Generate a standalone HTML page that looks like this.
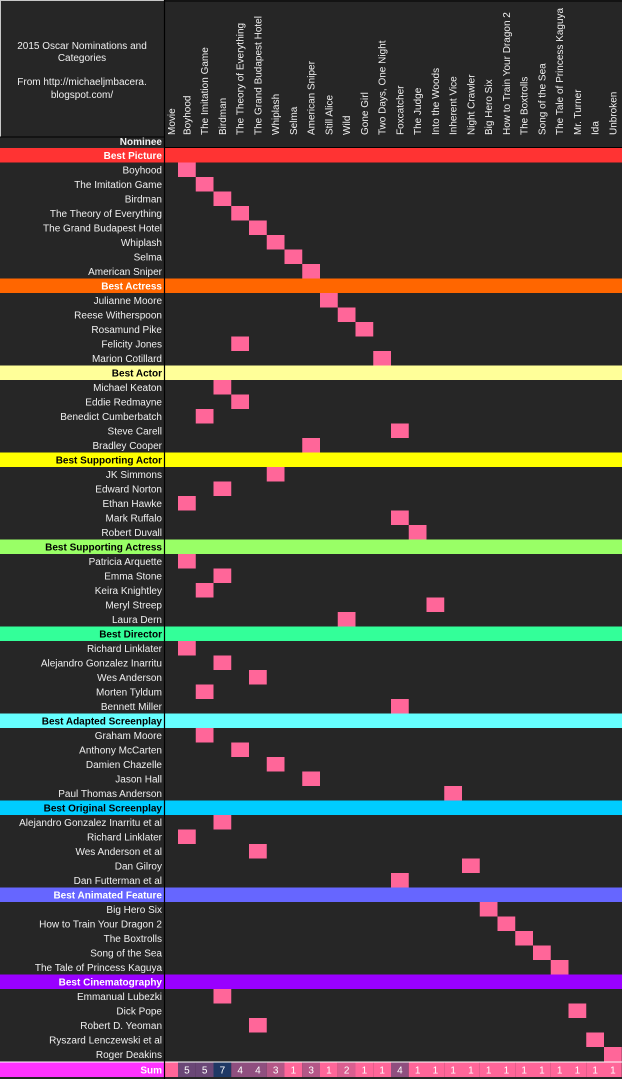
<!DOCTYPE html>
<html><head><meta charset="utf-8">
<style>
html,body{margin:0;padding:0;background:#262626;}
svg{display:block;font-family:"Liberation Sans",Arial,sans-serif;}
</style></head>
<body>
<svg id="chart" width="622" height="1079" viewBox="0 0 622 1079" xmlns="http://www.w3.org/2000/svg">
<rect x="0" y="0" width="622" height="1079" fill="#262626"/>
<line x1="0" y1="0.5" x2="165" y2="0.5" stroke="#c8c8c8"/>
<line x1="165" y1="1" x2="622" y2="1" stroke="#000"/>
<line x1="0.5" y1="0" x2="0.5" y2="137" stroke="#c8c8c8"/>
<text x="82" y="49" fill="#f0f0f0" font-size="10" text-anchor="middle">2015 Oscar Nominations and</text>
<text x="82" y="61" fill="#f0f0f0" font-size="10" text-anchor="middle">Categories</text>
<text x="82" y="85" fill="#f0f0f0" font-size="10" text-anchor="middle">From http://michaeljmbacera.</text>
<text x="82" y="98" fill="#f0f0f0" font-size="10" text-anchor="middle">blogspot.com/</text>
<g id="g"></g>
</svg>
<script>
const movies = ["Movie","Boyhood","The Imitation Game","Birdman","The Theory of Everything","The Grand Budapest Hotel","Whiplash","Selma","American Sniper","Still Alice","Wild","Gone Girl","Two Days, One Night","Foxcatcher","The Judge","Into the Woods","Inherent Vice","Night Crawler","Big Hero Six","How to Train Your Dragon 2","The Boxtrolls","Song of the Sea","The Tale of Princess Kaguya","Mr. Turner","Ida","Unbroken"];
const categories = ["Best Picture","Best Actress","Best Actor","Best Supporting Actor","Best Supporting Actress","Best Director","Best Adapted Screenplay","Best Original Screenplay","Best Animated Feature","Best Cinematography"];
const categoryColors = ["#ff3333","#ff6600","#ffff99","#ffff00","#99ff66","#33ff99","#66ffff","#00ccff","#6666ff","#9900ff"];
const categoryTextColors = ["#fff","#fff","#000","#000","#000","#000","#000","#000","#fff","#fff"];
const nominees = [
 ["Boyhood","The Imitation Game","Birdman","The Theory of Everything","The Grand Budapest Hotel","Whiplash","Selma","American Sniper"],
 ["Julianne Moore","Reese Witherspoon","Rosamund Pike","Felicity Jones","Marion Cotillard"],
 ["Michael Keaton","Eddie Redmayne","Benedict Cumberbatch","Steve Carell","Bradley Cooper"],
 ["JK Simmons","Edward Norton","Ethan Hawke","Mark Ruffalo","Robert Duvall"],
 ["Patricia Arquette","Emma Stone","Keira Knightley","Meryl Streep","Laura Dern"],
 ["Richard Linklater","Alejandro Gonzalez Inarritu","Wes Anderson","Morten Tyldum","Bennett Miller"],
 ["Graham Moore","Anthony McCarten","Damien Chazelle","Jason Hall","Paul Thomas Anderson"],
 ["Alejandro Gonzalez Inarritu et al","Richard Linklater","Wes Anderson et al","Dan Gilroy","Dan Futterman et al"],
 ["Big Hero Six","How to Train Your Dragon 2","The Boxtrolls","Song of the Sea","The Tale of Princess Kaguya"],
 ["Emmanual Lubezki","Dick Pope","Robert D. Yeoman","Ryszard Lenczewski et al","Roger Deakins"]
];
const nomineeMovie = [
 [1,2,3,4,5,6,7,8],
 [9,10,11,4,12],
 [3,4,2,13,8],
 [6,3,1,13,14],
 [1,3,2,15,10],
 [1,3,5,2,13],
 [2,4,6,8,16],
 [3,1,5,17,13],
 [18,19,20,21,22],
 [3,23,5,24,25]
];

const NS="http://www.w3.org/2000/svg";
const g=document.getElementById('g');
const LEFT=165, MOVIEW=13, COLW=17.75, TOP=148, ROWH=14.5;
function colX(i){return i===0?LEFT:LEFT+MOVIEW+(i-1)*COLW;}
function colW(i){return i===0?MOVIEW:COLW;}
function rowY(r){return TOP+r*ROWH;}
function mk(tag,attrs){const e=document.createElementNS(NS,tag);for(const k in attrs)e.setAttribute(k,attrs[k]);g.appendChild(e);return e;}

movies.forEach((m,i)=>{
  const cx=colX(i)+colW(i)/2+3.5;
  const t=mk('text',{x:0,y:0,fill:'#f0f0f0','font-size':'10',transform:`translate(${cx},135) rotate(-90)`});
  t.textContent=m;
  
  
});
const nl=mk('text',{x:162,y:145,fill:'#f0f0f0','font-size':'10','font-weight':'bold','text-anchor':'end'});
nl.textContent='Nominee';



let r=0;
const sums=new Array(movies.length).fill(0);
categories.forEach((c,ci)=>{
  const y=rowY(r);
  const band=mk('rect',{x:0,y:y,width:622,height:ROWH,fill:categoryColors[ci]});
  
  
  const t=mk('text',{x:162,y:y+10.8,fill:categoryTextColors[ci],'font-size':'10','font-weight':'bold','text-anchor':'end'});
  t.textContent=c;
  
  
  r++;
  nominees[ci].forEach((n,ni)=>{
    const yy=rowY(r);
    const lab=mk('text',{x:162,y:yy+10.8,fill:'#f0f0f0','font-size':'10','text-anchor':'end'});
    lab.textContent=n;
    
    
    const mi=nomineeMovie[ci][ni];
    sums[mi]++;
    const cell=mk('rect',{x:colX(mi),y:yy,width:colW(mi),height:ROWH,fill:'#ff6699'});
    
    
    r++;
  });
});
mk('line',{x1:LEFT,y1:147.5,x2:622,y2:147.5,stroke:'#000','stroke-width':1});
mk('line',{x1:0,y1:137,x2:165,y2:137,stroke:'#000','stroke-width':1});

const sy=rowY(r)+1;
mk('line',{x1:0,y1:sy-0.5,x2:622,y2:sy-0.5,stroke:'#fff','stroke-width':1});
const sl=mk('rect',{x:0,y:sy,width:164,height:ROWH,fill:'#ff33ff'});


const st=mk('text',{x:162,y:sy+10.8,fill:'#fff','font-size':'10','font-weight':'bold','text-anchor':'end'});
st.textContent='Sum';


const maxS=Math.max(...sums);
function blend(v){const t=maxS>1?(v-1)/(maxS-1):0;const a=[255,102,153],b=[31,56,100];return `rgb(${a.map((x,k)=>Math.round(x+(b[k]-x)*t)).join(',')})`;}
movies.forEach((m,i)=>{
  const rc=mk('rect',{x:colX(i),y:sy,width:colW(i),height:ROWH,fill:i===0?'#ff6699':blend(sums[i])});
  
  
  if(i>0){
    const tx=mk('text',{x:colX(i)+colW(i)/2,y:sy+10.8,fill:'#fff','font-size':'10','text-anchor':'middle'});
    tx.textContent=sums[i];
    
    
  }
});
mk('line',{x1:164.5,y1:0,x2:164.5,y2:1079,stroke:'#000','stroke-width':1.2});
</script>
</body></html>
